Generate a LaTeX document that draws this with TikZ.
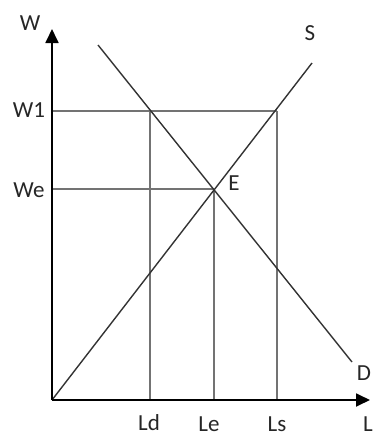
\documentclass[tikz,border=0pt]{standalone}
\usepackage{fontspec}
\setmainfont{Carlito}
\usetikzlibrary{arrows.meta}

\begin{document}
\begin{tikzpicture}[
  x=1pt, y=-1pt,
  >={Triangle[length=14pt, width=13pt]},
  axis/.style={->, line width=1.8pt, black},
  curve/.style={line width=1.4pt, black!80},
  guide/.style={line width=2pt, black!55},
  lbl/.style={font=\fontsize{23}{27}\selectfont, text=black!85, inner sep=0pt},
]
\useasboundingbox (0,0) rectangle (374,437);

% ===== Axes =====
\coordinate (O) at (52,400);
\coordinate (Wtop) at (52,29);
\coordinate (Lend) at (370,400);

% ===== Curves =====
\coordinate (Dtop) at (98,45);
\coordinate (Dbot) at (352,362);
\coordinate (Stop) at (312,63);

% Points on the curves
\coordinate (E) at (214,189);   % equilibrium
\coordinate (Aw) at (150,111);  % demand at W1
\coordinate (Bw) at (277,111);  % supply at W1

% Guide lines
\draw[guide] (O |- Aw) -- (Bw);
\draw[guide] (O |- E) -- (E);
\draw[guide] (Aw) -- (Aw |- O);
\draw[guide] (E) -- (E |- O);
\draw[guide] (Bw) -- (Bw |- O);

\draw[curve] (Dtop) -- (Dbot);
\draw[curve] (O) -- (Stop);

\draw[axis] (O) -- (Wtop);
\draw[axis] (O) -- (Lend);

% Labels
\node[lbl] (wlab) at (30,23) {W};
\node[lbl] (w1lab) at (29,110) {W1};
\node[lbl] (welab) at (29,190) {We};
\node[lbl] (slab) at (310,33) {S};
\node[lbl] (elab) at (234,183) {E};
\node[lbl] (dlab) at (364,373) {D};
\node[lbl, anchor=base] (ldlab) at (149,430) {Ld};
\node[lbl, anchor=base] (lelab) at (209,431) {Le};
\node[lbl, anchor=base] (lslab) at (277,431) {Ls};
\node[lbl, anchor=base] (llab) at (368,431) {L};

\end{tikzpicture}
\end{document}
